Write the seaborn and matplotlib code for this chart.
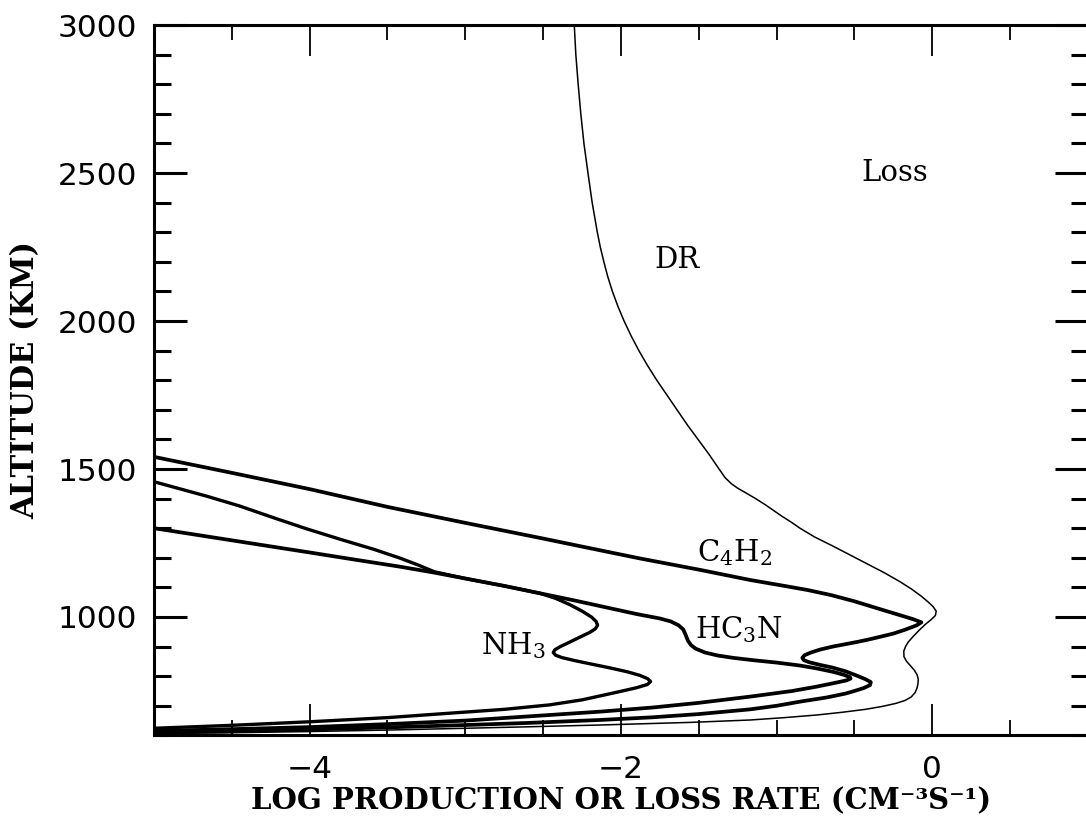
import matplotlib
matplotlib.use("Agg")
import matplotlib.pyplot as plt
import seaborn as sns
from matplotlib.ticker import MultipleLocator

sns.set_style("ticks")
plt.rcParams['font.family'] = ['DejaVu Sans']
plt.rcParams['text.color'] = 'black'
plt.rcParams['axes.labelcolor'] = 'black'
plt.rcParams['xtick.color'] = 'black'
plt.rcParams['ytick.color'] = 'black'
plt.rcParams['mathtext.fontset'] = 'dejavuserif'

# DR loss profile (thin line)
dr_alt = [3000, 2900, 2800, 2700, 2600, 2500, 2400, 2300, 2250, 2200, 2150, 2100,
          2050, 2000, 1950, 1900, 1850, 1800, 1750, 1700, 1650, 1600, 1550, 1500,
          1470, 1450, 1435, 1420, 1400, 1380, 1360, 1340, 1320, 1300, 1270, 1240,
          1210, 1180, 1150, 1120, 1095, 1070, 1050, 1035, 1020, 1005, 990, 975, 955,
          933, 915, 900, 885, 866, 850, 835, 820, 805, 790, 775, 760, 745, 730, 718,
          708, 698, 688, 678, 669, 660, 652, 644, 635, 629, 624, 618, 613, 609, 606]
dr_rate = [-2.300, -2.290, -2.275, -2.258, -2.238, -2.212, -2.185, -2.152, -2.133,
           -2.110, -2.085, -2.055, -2.020, -1.980, -1.935, -1.885, -1.830, -1.770,
           -1.705, -1.640, -1.575, -1.505, -1.435, -1.370, -1.330, -1.290, -1.250,
           -1.200, -1.135, -1.075, -1.020, -0.965, -0.905, -0.850, -0.755, -0.640,
           -0.530, -0.420, -0.310, -0.210, -0.135, -0.070, -0.025, 0.005, 0.025,
           0.020, -0.010, -0.045, -0.085, -0.125, -0.155, -0.172, -0.183, -0.182,
           -0.165, -0.140, -0.115, -0.098, -0.090, -0.092, -0.098, -0.110, -0.135,
           -0.175, -0.235, -0.320, -0.430, -0.580, -0.740, -0.950, -1.17, -1.55,
           -2.14, -2.6, -3.0, -3.5, -4.0, -4.5, -5.0]

# C4H2
c4h2_alt = [1541, 1487, 1432, 1372, 1318, 1265, 1226, 1198, 1159, 1125, 1105, 1091,
            1074, 1053, 1024, 1005, 992, 982, 972, 958, 944, 935, 925, 916, 908, 900,
            890, 880, 871, 862, 854, 847, 838, 829, 817, 803, 790, 780, 770, 760, 750,
            741, 728, 714, 700, 688, 672, 661, 652, 642, 635, 627, 620, 614, 610]
c4h2_rate = [-5.0, -4.5, -4.0, -3.5, -3.0, -2.5, -2.14, -1.88, -1.49, -1.17, -0.95,
             -0.80, -0.65, -0.50, -0.32, -0.20, -0.12, -0.07, -0.10, -0.17, -0.25,
             -0.32, -0.40, -0.48, -0.56, -0.64, -0.72, -0.78, -0.82, -0.835, -0.825,
             -0.79, -0.72, -0.64, -0.56, -0.49, -0.43, -0.395, -0.40, -0.44, -0.50,
             -0.56, -0.68, -0.85, -1.00, -1.17, -1.5, -1.8, -2.14, -2.6, -3.0, -3.5,
             -4.0, -4.5, -5.0]

# HC3N
hc3n_alt = [1300, 1259, 1218, 1193, 1170, 1150, 1130, 1105, 1080, 1056, 1033, 1010,
            995, 985, 972, 958, 940, 920, 905, 893, 880, 870, 862, 854, 846, 836, 826,
            815, 805, 797, 792, 786, 778, 765, 750, 731, 710, 694, 680, 664, 650, 638,
            628, 621, 615]
hc3n_rate = [-5.0, -4.5, -4.0, -3.7, -3.42, -3.2, -3.0, -2.75, -2.52, -2.3, -2.1,
             -1.9, -1.75, -1.68, -1.63, -1.60, -1.585, -1.57, -1.55, -1.52, -1.46,
             -1.38, -1.28, -1.15, -1.0, -0.85, -0.74, -0.64, -0.57, -0.53, -0.525,
             -0.55, -0.62, -0.74, -0.9, -1.17, -1.5, -1.8, -2.14, -2.6, -3.0, -3.5,
             -4.0, -4.5, -5.0]

# NH3
nh3_alt = [1457, 1408, 1375, 1335, 1298, 1262, 1229, 1199, 1175, 1153,
           1130, 1105, 1080, 1063, 1042, 1020, 1000, 985, 972, 960, 948, 933, 915,
           900, 889, 880, 871, 863, 853, 842, 829, 815, 803, 792, 782, 772, 761, 749,
           735, 720, 703, 688, 675, 660, 646, 634, 624]
nh3_rate = [-5.0, -4.66, -4.45, -4.23, -4.02, -3.8, -3.59, -3.42, -3.3, -3.2,
            -3.0, -2.75, -2.52, -2.42, -2.33, -2.25, -2.19, -2.16, -2.15,
            -2.165, -2.20, -2.26, -2.33, -2.39, -2.425, -2.435, -2.42, -2.38, -2.30,
            -2.20, -2.08, -1.96, -1.88, -1.83, -1.81, -1.83, -1.90, -2.0, -2.12,
            -2.25, -2.46, -2.75, -3.1, -3.5, -4.0, -4.5, -5.0]

fig, ax = plt.subplots(figsize=(10.86, 8.26), dpi=100)
fig.subplots_adjust(left=0.1418, right=1.0018, bottom=0.1097, top=0.9697)

curves = [(dr_rate, dr_alt, 1.1), (c4h2_rate, c4h2_alt, 2.7),
          (hc3n_rate, hc3n_alt, 2.7), (nh3_rate, nh3_alt, 2.4)]
for rate, alt, lw in curves:
    sns.lineplot(x=rate, y=alt, sort=False, estimator=None, color="black",
                 linewidth=lw, ax=ax)

ax.set_xlim(-5, 1)
ax.set_ylim(600, 3000)
ax.xaxis.set_major_locator(MultipleLocator(2))
ax.xaxis.set_minor_locator(MultipleLocator(0.5))
ax.yaxis.set_major_locator(MultipleLocator(500))
ax.yaxis.set_minor_locator(MultipleLocator(100))

ax.tick_params(which="both", direction="in", top=True, right=True, colors="black")
ax.tick_params(axis="y", which="major", length=24, width=2.2, labelsize=22.5, pad=12)
ax.tick_params(axis="y", which="minor", length=12, width=2.2)
ax.tick_params(axis="x", which="major", length=22, width=1.3, labelsize=22.5, pad=14)
ax.tick_params(axis="x", which="minor", length=11, width=1.3)
for sp in ax.spines.values():
    sp.set_linewidth(2.2)
    sp.set_color("black")

ax.set_xlabel("LOG PRODUCTION OR LOSS RATE (CM\u207b\u00b3S\u207b\u00b9)",
              fontdict=dict(family="DejaVu Serif", weight="bold", size=21), labelpad=2)
ax.set_ylabel("ALTITUDE (KM)",
              fontdict=dict(family="DejaVu Serif", weight="bold", size=22), labelpad=12)

ann = dict(family="DejaVu Serif", size=21, ha="center", va="center", color="black")
ax.text(-0.24, 2500, "Loss", **ann)
ax.text(-1.64, 2206, "DR", **ann)
ax.text(-1.27, 1218, r"$\mathrm{C_4H_2}$", **ann)
ax.text(-1.24, 957, r"$\mathrm{HC_3N}$", **ann)
ax.text(-2.69, 905, r"$\mathrm{NH_3}$", **ann)

fig.savefig("out.png", dpi=100)
